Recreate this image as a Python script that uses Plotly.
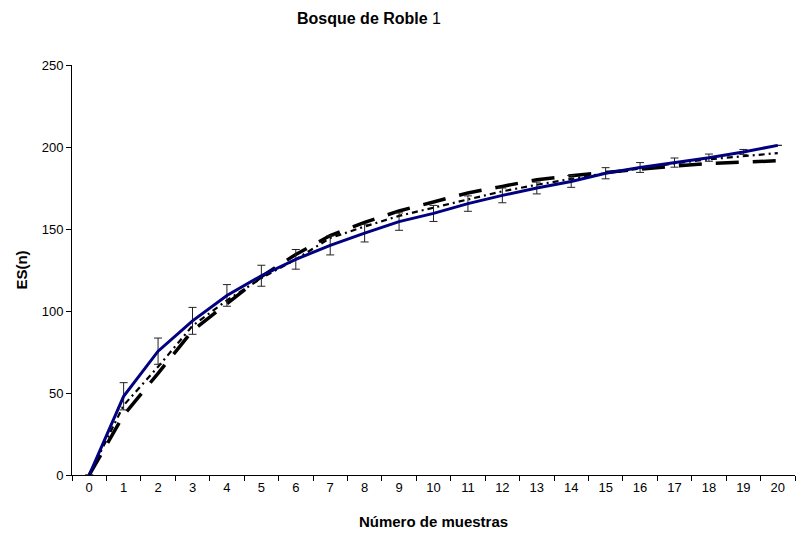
import plotly.graph_objects as go

muestras = [str(i) for i in range(21)]
observado = [0, 48, 75.5, 94, 109.5, 121.5, 131.5, 140, 147.5, 154.5, 159.5,
             165.5, 170.5, 175, 179, 184, 187.5, 190.5, 193.5, 197, 201]
error_obs = [0, 8.3, 8, 8.2, 6.6, 6.4, 6, 5.8, 5.4, 5.3, 4.9,
             4.7, 4.5, 3.6, 3.6, 3.4, 3, 2.8, 2.2, 1.5, 0]
estimador_a = [0, 36.5, 62, 88, 104.5, 121, 134.5, 146, 154, 161, 166.5,
               172, 176, 180, 182.5, 184.5, 186.8, 188.4, 190, 190.8, 191.6]
estimador_b = [0, 42.5, 66, 91, 106.5, 120, 131.5, 144.5, 151.5, 158, 163,
               168, 173, 177, 180.5, 184, 186.8, 190, 192.5, 194.5, 196.3]

fig = go.Figure()
fig.add_trace(go.Scatter(x=muestras, y=estimador_a, mode="lines",
                         line=dict(color="black", width=3.5, dash="23px,14px"),
                         showlegend=False))
fig.add_trace(go.Scatter(x=muestras, y=estimador_b, mode="lines",
                         line=dict(color="black", width=2.2, dash="6px,4px,2px,4px"),
                         showlegend=False))
fig.add_trace(go.Scatter(x=muestras, y=observado, mode="lines",
                         line=dict(color="#000080", width=3),
                         error_y=dict(type="data", array=error_obs, visible=True,
                                      color="#222222", thickness=1, width=4),
                         showlegend=False))

font = "Liberation Sans, Arial, sans-serif"
fig.update_layout(
    width=797, height=537,
    margin=dict(l=72, r=2, t=65, b=62),
    paper_bgcolor="white", plot_bgcolor="white",
    font=dict(family=font, color="black", size=13),
    title=dict(text="<b>Bosque de Roble</b> 1", x=369/797, xref="container",
               xanchor="center", y=1 - 18/537, yref="container", yanchor="middle",
               font=dict(size=16, family=font, color="black")),
    xaxis=dict(type="category", range=[-0.5, 20.5], tickson="boundaries",
               ticks="outside", ticklen=5, tickcolor="black", showgrid=False,
               showline=True, linecolor="black", linewidth=1, zeroline=False,
               tickfont=dict(size=13),
               title=dict(text="<b>Número de muestras</b>", font=dict(size=15), standoff=22)),
    yaxis=dict(range=[0, 250], tickvals=[0, 50, 100, 150, 200, 250],
               ticks="outside", ticklen=5, tickcolor="black", showgrid=False,
               showline=True, linecolor="black", linewidth=1, zeroline=False,
               tickfont=dict(size=13),
               title=dict(text="<b>ES(n)</b>", font=dict(size=15), standoff=10)),
)

fig.write_html("out.html")
